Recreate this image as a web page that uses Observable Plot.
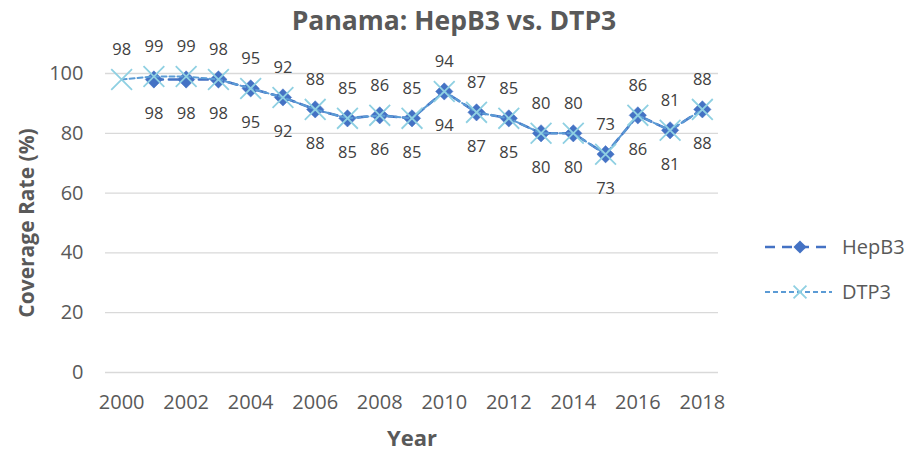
<!DOCTYPE html>
<html>
<head>
<meta charset="utf-8">
<script src="https://cdn.jsdelivr.net/npm/d3@7"></script>
<script src="https://cdn.jsdelivr.net/npm/@observablehq/plot@0.6"></script>
<style>
  html, body { margin: 0; padding: 0; background: #fff; }
  #wrap { position: relative; width: 908px; height: 454px; font-family: "Open Sans", sans-serif; }
  #title { position: absolute; left: 0; width: 908px; top: 2px; text-align: center; font-size: 26.5px; font-weight: bold; color: #595959; }
  #legend { position: absolute; left: 760px; top: 228px; }
</style>
</head>
<body>
<div id="wrap">
  <div id="chart"></div>
  <div id="title">Panama: HepB3 vs. DTP3</div>
  <svg id="legend" width="148" height="80"></svg>
</div>
<script>
const years = [2000, 2001, 2002, 2003, 2004, 2005, 2006, 2007, 2008, 2009, 2010, 2011, 2012, 2013, 2014, 2015, 2016, 2017, 2018];
const hepb3 = [null, 98, 98, 98, 95, 92, 88, 85, 86, 85, 94, 87, 85, 80, 80, 73, 86, 81, 88];
const dtp3  = [98, 99, 99, 98, 95, 92, 88, 85, 86, 85, 94, 87, 85, 80, 80, 73, 86, 81, 88];
const xTicks = [2000, 2002, 2004, 2006, 2008, 2010, 2012, 2014, 2016, 2018];
const yTicks = [0, 20, 40, 60, 80, 100];

const seriesNames = ["HepB3", "DTP3"];
const hepColor = "#4472C4";
const dtpLine = "#5B9BD5";
const dtpMarker = "#8FD0E2";

const hepData = years.map((y, i) => ({year: y, value: hepb3[i]})).filter(d => d.value != null);
const dtpData = years.map((y, i) => ({year: y, value: dtp3[i]})).filter(d => d.value != null);

const font = "Open Sans, sans-serif";

const chart = Plot.plot({
  width: 908,
  height: 454,
  marginTop: 73,
  marginBottom: 82,
  marginLeft: 105,
  marginRight: 190,
  style: {fontFamily: font, color: "#595959", background: "#fff", overflow: "visible"},
  x: {domain: [1999.5, 2018.5], ticks: xTicks, tickFormat: d => String(d)},
  y: {domain: [0, 100], ticks: yTicks},
  marks: [
    Plot.gridY(yTicks, {stroke: "#D9D9D9", strokeOpacity: 1, strokeWidth: 1.3}),
    Plot.axisX({ticks: xTicks, tickSize: 0, tickPadding: 22, fontSize: 20, fill: "#595959", tickFormat: d => String(d), label: null}),
    Plot.axisY({ticks: yTicks, tickSize: 0, tickPadding: 22, fontSize: 20, fill: "#595959", label: null}),
    Plot.text(["Year"], {frameAnchor: "bottom", dy: 73, fontSize: 22, fontWeight: "bold", fill: "#595959", textAnchor: "middle"}),
    Plot.text(["Coverage Rate (%)"], {frameAnchor: "left", dx: -78, rotate: -90, textAnchor: "middle", fontSize: 21, fontWeight: "bold", fill: "#595959"}),
    Plot.line(hepData, {x: "year", y: "value", stroke: hepColor, strokeWidth: 2.6, strokeDasharray: "9,6"}),
    Plot.dot(hepData, {x: "year", y: "value", symbol: "diamond2", r: 7.8, fill: hepColor, stroke: hepColor, strokeWidth: 0.5}),
    Plot.line(dtpData, {x: "year", y: "value", stroke: dtpLine, strokeWidth: 2, strokeDasharray: "5,3"}),
    Plot.dot(dtpData, {x: "year", y: "value", symbol: "times", r: 9.5, stroke: dtpMarker, strokeWidth: 1.8}),
    Plot.text(dtpData, {x: "year", y: "value", text: d => String(d.value), dy: -30, fontSize: 16.5, fill: "#404040"}),
    Plot.text(hepData, {x: "year", y: "value", text: d => String(d.value), dy: 34, fontSize: 16.5, fill: "#404040"})
  ]
});
document.getElementById("chart").appendChild(chart);

// Legend
const lg = d3.select("#legend");
const rows = [
  {name: seriesNames[0], y: 19, stroke: hepColor, dash: "10,7", width: 2.5, sym: "diamond"},
  {name: seriesNames[1], y: 64, stroke: dtpLine, dash: "5,3", width: 2, sym: "times"}
];
rows.forEach(r => {
  lg.append("line").attr("x1", 5).attr("x2", 72).attr("y1", r.y).attr("y2", r.y)
    .attr("stroke", r.stroke).attr("stroke-width", r.width).attr("stroke-dasharray", r.dash);
  if (r.sym === "diamond") {
    lg.append("path").attr("d", d3.symbol(d3.symbolDiamond2, 110)()).attr("transform", `translate(40,${r.y})`)
      .attr("fill", hepColor);
  } else {
    lg.append("path").attr("d", d3.symbol(d3.symbolTimes, 110)()).attr("transform", `translate(40,${r.y})`)
      .attr("fill", "none").attr("stroke", dtpMarker).attr("stroke-width", 1.8);
  }
  lg.append("text").attr("x", 82).attr("y", r.y).attr("dy", "0.35em")
    .attr("font-size", 20).attr("fill", "#595959").attr("font-family", font).text(r.name);
});
</script>
</body>
</html>
